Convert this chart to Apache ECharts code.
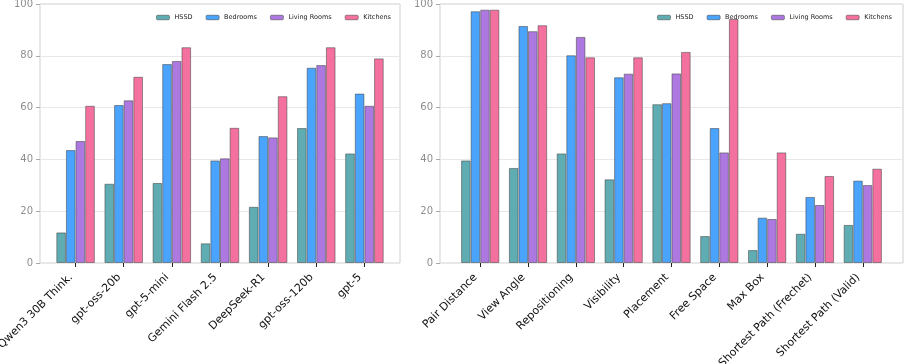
<!DOCTYPE html>
<html>
<head>
<meta charset="utf-8">
<script src="https://cdn.jsdelivr.net/npm/echarts@6/dist/echarts.min.js"></script>
<style>
  body { margin: 0; background: #fff; }
  #chart { width: 904px; height: 364px; }
</style>
</head>
<body>
<div id="chart"></div>
<script>
const seriesNames = ["HSSD", "Bedrooms", "Living Rooms", "Kitchens"];
const colors = ["#5fadb3", "#4aa3fc", "#ad78e0", "#f4719f"];

const modelos = ["Qwen3 30B Think.", "gpt-oss-20b", "gpt-5-mini", "Gemini Flash 2.5", "DeepSeek-R1", "gpt-oss-120b", "gpt-5"];
const modelosHSSD = [11.8, 30.6, 30.9, 7.6, 21.7, 52.1, 42.3];
const modelosBedrooms = [43.6, 61.0, 76.8, 39.6, 49.0, 75.4, 65.4];
const modelosLiving = [47.1, 62.8, 78.0, 40.4, 48.5, 76.4, 60.7];
const modelosKitchens = [60.7, 71.9, 83.3, 52.2, 64.4, 83.3, 79.0];

const tarefas = ["Pair Distance", "View Angle", "Repositioning", "Visibility", "Placement", "Free Space", "Max Box", "Shortest Path (Frechet)", "Shortest Path (Valid)"];
const tarefasHSSD = [39.6, 36.7, 42.3, 32.3, 61.3, 10.4, 5.0, 11.3, 14.7];
const tarefasBedrooms = [97.2, 91.5, 80.2, 71.7, 61.7, 52.1, 17.5, 25.5, 31.8];
const tarefasLiving = [97.8, 89.5, 87.3, 73.1, 73.2, 42.7, 17.0, 22.4, 30.1];
const tarefasKitchens = [97.8, 91.8, 79.4, 79.4, 81.5, 94.2, 42.7, 33.6, 36.4];

const yTicks = [0, 20, 40, 60, 80, 100];

const fonte = "DejaVu Sans";

// grids 0,1 = moldura com eixo y; grids 2,3 = barras (mais estreitos, como as margens do matplotlib)
const gridBase = { top: 4, bottom: 101, containLabel: false, outerBoundsMode: "none" };
const grids = [
  Object.assign({ left: 40, right: 504, show: true, borderColor: "#cfcfcf", borderWidth: 1 }, gridBase),
  Object.assign({ left: 440, right: 1, show: true, borderColor: "#cfcfcf", borderWidth: 1 }, gridBase),
  Object.assign({ left: 51.5, right: 515.5 }, gridBase),
  Object.assign({ left: 456.3, right: 17.3 }, gridBase)
];

function eixoY(grid, visivel) {
  return {
    type: "value", gridIndex: grid, min: yTicks[0], max: yTicks[yTicks.length - 1], interval: 20,
    show: visivel,
    axisLine: { show: false },
    axisTick: { show: true, length: 4, lineStyle: { color: "#aaa" } },
    axisLabel: { color: "#8f8f8f", fontSize: 10, fontFamily: fonte, margin: 7 },
    splitLine: { show: visivel, lineStyle: { color: "#e8e8e8", width: 1 } }
  };
}

function eixoX(grid, cats) {
  return {
    type: "category", gridIndex: grid, data: cats,
    axisLine: { show: false },
    axisTick: { show: true, alignWithLabel: true, length: 4, lineStyle: { color: "#222" } },
    axisLabel: {
      rotate: 45, interval: 0, color: "#111", fontSize: 11, fontFamily: fonte,
      margin: 8, padding: [0, 6.5, 0, 0]
    },
    splitLine: { show: false }
  };
}

function criarSeries(xIdx, listas) {
  return listas.map((dados, i) => ({
    name: seriesNames[i],
    type: "bar",
    xAxisIndex: xIdx,
    yAxisIndex: xIdx,
    data: dados,
    barGap: "0%",
    barCategoryGap: "20%",
    itemStyle: { color: colors[i], borderColor: "rgba(70,70,70,0.55)", borderWidth: 1 }
  }));
}

const legendaBase = {
  data: seriesNames,
  top: 9,
  itemWidth: 13,
  itemHeight: 4.5,
  itemGap: 13,
  textStyle: { fontSize: 6.5, fontFamily: fonte, color: "#222" },
  itemStyle: { borderColor: "rgba(70,70,70,0.55)", borderWidth: 1 }
};

const chart = echarts.init(document.getElementById("chart"), null, { renderer: "canvas" });
chart.setOption({
  animation: false,
  backgroundColor: "#fff",
  color: colors,
  grid: grids,
  legend: [
    Object.assign({}, legendaBase, { right: 508 }),
    Object.assign({}, legendaBase, { right: 7 })
  ],
  xAxis: [
    { type: "value", gridIndex: 0, show: false, min: 0, max: 1 },
    { type: "value", gridIndex: 1, show: false, min: 0, max: 1 },
    eixoX(2, modelos),
    eixoX(3, tarefas)
  ],
  yAxis: [
    eixoY(0, true),
    eixoY(1, true),
    eixoY(2, false),
    eixoY(3, false)
  ],
  series: [
    ...criarSeries(2, [modelosHSSD, modelosBedrooms, modelosLiving, modelosKitchens]),
    ...criarSeries(3, [tarefasHSSD, tarefasBedrooms, tarefasLiving, tarefasKitchens])
  ]
});
</script>
</body>
</html>
